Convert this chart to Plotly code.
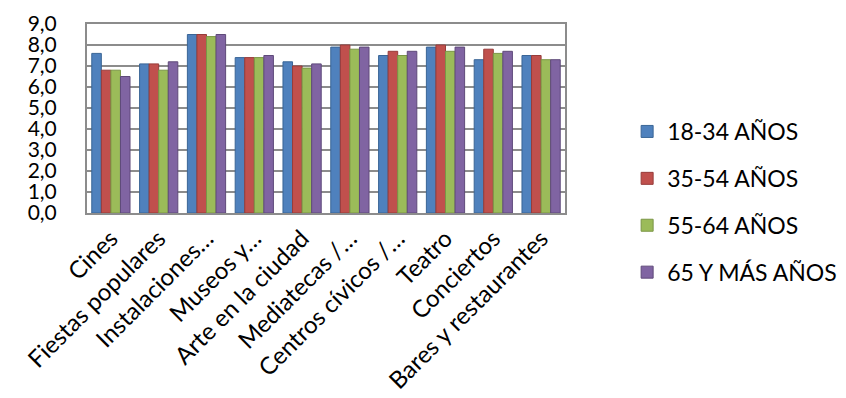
import plotly.graph_objects as go

categories = ["Cines", "Fiestas populares", "Instalaciones…", "Museos y…",
              "Arte en la ciudad", "Mediatecas /…", "Centros cívicos /…",
              "Teatro", "Conciertos", "Bares y restaurantes"]
series_names = ["18-34 AÑOS", "35-54 AÑOS", "55-64 AÑOS", "65 Y MÁS AÑOS"]
v_18_34 = [7.6, 7.1, 8.5, 7.4, 7.2, 7.9, 7.5, 7.9, 7.3, 7.5]
v_35_54 = [6.8, 7.1, 8.5, 7.4, 7.0, 8.0, 7.7, 8.0, 7.8, 7.5]
v_55_64 = [6.8, 6.8, 8.4, 7.4, 6.9, 7.8, 7.5, 7.7, 7.6, 7.3]
v_65 = [6.5, 7.2, 8.5, 7.5, 7.1, 7.9, 7.7, 7.9, 7.7, 7.3]
y_ticks = [0, 1, 2, 3, 4, 5, 6, 7, 8, 9]

colors = ["#4F81BD", "#C0504D", "#9BBB59", "#8064A2"]
edges = ["#3A6596", "#973C3A", "#7A9546", "#5F4A7A"]

fig = go.Figure()
for name, vals, c, e in zip(series_names, [v_18_34, v_35_54, v_55_64, v_65], colors, edges):
    fig.add_trace(go.Bar(x=categories, y=vals, name=name, legendgroup=name,
                         marker=dict(color=c, line=dict(color=e, width=1))))

fig.update_layout(
    width=846, height=398,
    margin=dict(l=79, r=264, t=16, b=193),
    paper_bgcolor="white", plot_bgcolor="white",
    separators=",.",
    barmode="group", bargap=0.2, bargroupgap=0,
    font=dict(family="Lato, Open Sans, sans-serif", color="#000000"),
    legend=dict(x=1.13, xanchor="left", y=0.545, yanchor="top",
                font=dict(size=23), tracegroupgap=14,
                itemwidth=30),
    showlegend=True,
)
fig.update_yaxes(range=[0, 9], tickvals=y_ticks, tickformat=".1f",
                 tickfont=dict(size=21), showgrid=True, gridcolor="#8C8C8C",
                 gridwidth=2, showline=True, linecolor="#8C8C8C", linewidth=2,
                 mirror=True, ticks="", ticklabelstandoff=24, zeroline=False,
                 automargin=False)
fig.update_xaxes(tickangle=-45, tickfont=dict(size=24), showline=True,
                 linecolor="#8C8C8C", linewidth=2, mirror=True, ticks="",
                 automargin=False)

fig.write_html("out.html")
